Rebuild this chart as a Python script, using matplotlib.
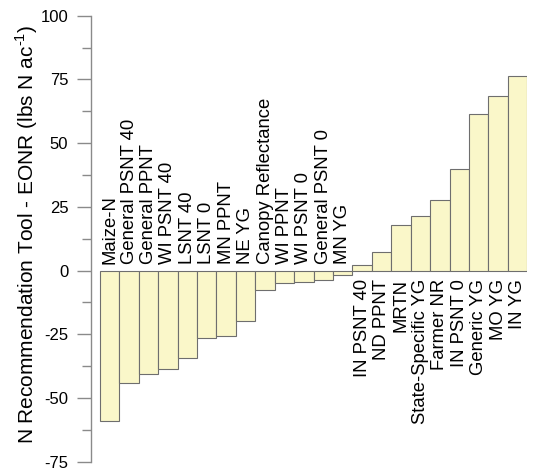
import matplotlib
matplotlib.use("Agg")
import matplotlib.pyplot as plt
import numpy as np

plt.rcParams["font.family"] = ["Liberation Sans", "DejaVu Sans"]
plt.rcParams["axes.unicode_minus"] = False
plt.rcParams["mathtext.fontset"] = "custom"
plt.rcParams["mathtext.rm"] = "Liberation Sans"

tools = [
    "Maize-N", "General PSNT 40", "General PPNT", "WI PSNT 40", "LSNT 40",
    "LSNT 0", "MN PPNT", "NE YG", "Canopy Reflectance", "WI PPNT",
    "WI PSNT 0", "General PSNT 0", "MN YG", "IN PSNT 40", "ND PPNT",
    "MRTN", "State-Specific YG", "Farmer NR", "IN PSNT 0", "Generic YG",
    "MO YG", "IN YG",
]
diff = [
    -59.0, -44.0, -40.6, -38.5, -34.2,
    -26.5, -25.6, -19.8, -7.5, -4.8,
    -4.6, -3.6, -1.6, 2.2, 7.2,
    17.7, 21.2, 27.5, 39.8, 61.5,
    68.4, 76.5,
]
yticks = [-75, -50, -25, 0, 25, 50, 75, 100]

fig = plt.figure(figsize=(5.33, 4.7), dpi=100)
ax = fig.add_axes([0.170, 0.0177, 0.8193, 0.949])

x = np.arange(len(tools))
ax.bar(x, diff, width=1.0, color="#faf7c9", edgecolor="#6e6e6e",
       linewidth=0.8, zorder=2)

# category names sit on the opposite side of zero from the bar
for xi, name, v in zip(x, tools, diff):
    if v < 0:
        ax.annotate(name, (xi, 0), xytext=(0, 5), textcoords="offset points",
                    rotation=90, ha="center", va="bottom", fontsize=13.3)
    else:
        ax.annotate(name, (xi, 0), xytext=(0, -6), textcoords="offset points",
                    rotation=90, ha="center", va="top", fontsize=13.3)

ax.set_xlim(-0.98, len(tools) - 0.5)
ax.set_ylim(-75, 100)
ax.set_yticks(yticks)
ax.set_yticks(np.arange(-62.5, 100, 25), minor=True)
ax.set_xticks([])
ax.tick_params(axis="y", which="major", length=10, width=1, color="#8a8a8a",
               labelsize=12, pad=6)
ax.tick_params(axis="y", which="minor", length=6.5, width=1, color="#8a8a8a")
for side in ["top", "right", "bottom"]:
    ax.spines[side].set_visible(False)
ax.spines["left"].set_color("#8a8a8a")
ax.spines["left"].set_linewidth(1)
ax.set_ylabel(r"N Recommendation Tool - EONR (lbs N ac$^{\text{-1}}$)",
              fontsize=15)
ax.yaxis.set_label_coords(-0.146, 0.51)
ax.yaxis.label.set_va("center")

fig.savefig("out.png", dpi=100)
